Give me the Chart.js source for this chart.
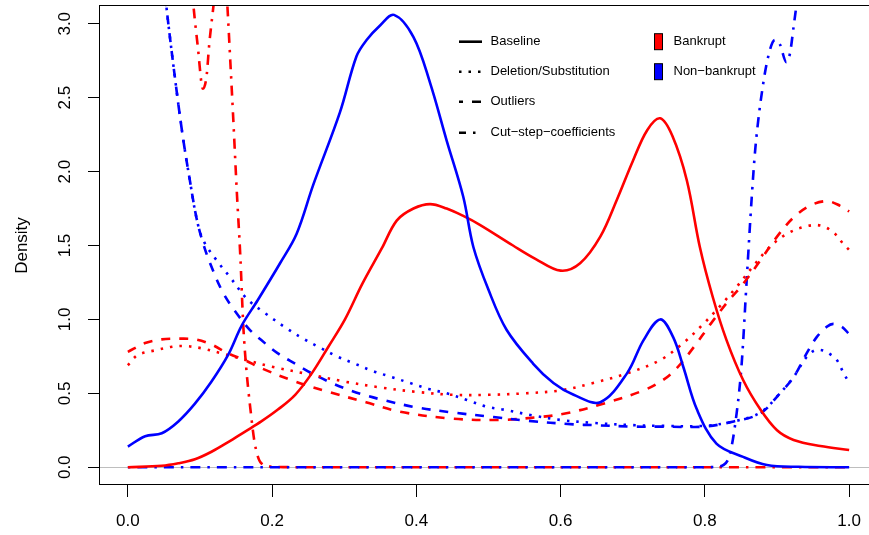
<!DOCTYPE html>
<html><head><meta charset="utf-8">
<script src="https://cdn.jsdelivr.net/npm/chart.js@4.4.0/dist/chart.umd.min.js"></script>
<style>
html,body{margin:0;padding:0;background:#fff;overflow:hidden;width:869px;height:535px}
#wrap{width:869px;height:535px;overflow:hidden;position:relative}
canvas{display:block}
</style></head>
<body><div id="wrap"><canvas id="c" width="890" height="535"></canvas></div>
<script>
// ---- tick labels / legend text ----
const xTicks = [0, 0.2, 0.4, 0.6, 0.8, 1.0];
const yTicks = [0, 0.5, 1.0, 1.5, 2.0, 2.5, 3.0];
const methodNames = ['Baseline', 'Deletion/Substitution', 'Outliers', 'Cut\u2212step\u2212coefficients'];
const groupNames = ['Bankrupt', 'Non\u2212bankrupt'];

// ---- Bankrupt (red) ----
const redBaseX = [0,0.047,0.07,0.093,0.116,0.139,0.162,0.185,0.208,0.232,0.255,0.278,0.301,0.325,0.352,0.373,0.396,0.419,0.442,0.465,0.488,0.534,0.565,0.6,0.627,0.655,0.678,0.7,0.72,0.738,0.755,0.775,0.793,0.811,0.83,0.853,0.877,0.9,0.923,0.96,1.0];
const redBaseY = [0.0,0.01,0.027,0.054,0.105,0.17,0.24,0.31,0.39,0.49,0.635,0.815,1.0,1.24,1.48,1.67,1.75,1.78,1.75,1.70,1.64,1.50,1.41,1.33,1.38,1.56,1.81,2.07,2.28,2.36,2.24,1.94,1.49,1.15,0.86,0.59,0.39,0.25,0.185,0.144,0.117];

const redDelX = [0,0.014,0.037,0.061,0.079,0.102,0.13,0.16,0.2,0.25,0.3,0.35,0.4,0.45,0.5,0.55,0.6,0.645,0.692,0.738,0.77,0.798,0.821,0.844,0.867,0.89,0.914,0.941,0.96,0.978,0.992,1.0];
const redDelY = [0.69,0.76,0.79,0.815,0.82,0.805,0.77,0.73,0.68,0.63,0.58,0.54,0.51,0.49,0.49,0.5,0.52,0.57,0.635,0.725,0.84,0.97,1.09,1.22,1.36,1.49,1.58,1.63,1.635,1.59,1.51,1.47];

const redOutX = [0,0.024,0.047,0.07,0.093,0.116,0.139,0.162,0.185,0.232,0.278,0.33,0.377,0.447,0.516,0.571,0.608,0.659,0.715,0.742,0.761,0.785,0.808,0.83,0.853,0.877,0.9,0.923,0.946,0.969,0.987,1.0];
const redOutY = [0.78,0.84,0.865,0.87,0.865,0.83,0.77,0.725,0.67,0.58,0.51,0.44,0.376,0.33,0.32,0.34,0.365,0.43,0.52,0.59,0.67,0.815,0.97,1.11,1.24,1.40,1.56,1.69,1.77,1.80,1.77,1.73];

const redCutX = [0,0.06,0.085,0.091,0.0975,0.102,0.104,0.109,0.113,0.118,0.124,0.13,0.135,0.138,0.142,0.146,0.151,0.156,0.16,0.164,0.17,0.176,0.185,0.2,0.25,1.0];
const redCutY = [6,4.2,3.5,3.12,2.82,2.6,2.56,2.64,2.87,3.09,3.35,3.45,3.35,3.12,2.75,2.37,1.87,1.42,0.96,0.68,0.39,0.16,0.027,0.004,0,0];

// ---- Non-bankrupt (blue) ----
const blueBaseX = [0,0.024,0.047,0.07,0.093,0.116,0.139,0.158,0.18,0.211,0.234,0.257,0.294,0.317,0.331,0.35,0.369,0.396,0.419,0.442,0.465,0.479,0.5,0.525,0.562,0.59,0.618,0.655,0.692,0.715,0.738,0.756,0.77,0.789,0.816,0.853,0.886,0.93,1.0];
const blueBaseY = [0.14,0.21,0.23,0.31,0.43,0.58,0.76,0.96,1.13,1.38,1.58,1.91,2.40,2.78,2.89,2.99,3.06,2.91,2.60,2.21,1.83,1.49,1.2,0.93,0.70,0.57,0.49,0.44,0.635,0.86,1.0,0.88,0.68,0.39,0.16,0.07,0.015,0.003,0.0];

const blueDelX = [0.05,0.054,0.0675,0.077,0.086,0.095,0.104,0.123,0.141,0.165,0.188,0.22,0.243,0.266,0.29,0.315,0.34,0.366,0.391,0.417,0.442,0.47,0.497,0.521,0.562,0.6,0.645,0.7,0.738,0.798,0.84,0.877,0.904,0.923,0.94,0.952,0.964,0.975,0.983,0.992,1.0];
const blueDelY = [3.3,3.09,2.55,2.21,1.94,1.69,1.54,1.40,1.29,1.14,1.05,0.94,0.87,0.81,0.75,0.70,0.65,0.61,0.57,0.53,0.50,0.455,0.41,0.39,0.35,0.32,0.30,0.285,0.28,0.28,0.31,0.37,0.50,0.61,0.74,0.79,0.79,0.76,0.725,0.64,0.57];

const blueOutX = [0.05,0.054,0.0675,0.077,0.086,0.095,0.104,0.114,0.132,0.151,0.169,0.185,0.208,0.232,0.255,0.278,0.301,0.327,0.354,0.4,0.451,0.507,0.553,0.618,0.645,0.7,0.738,0.798,0.84,0.877,0.904,0.923,0.941,0.955,0.969,0.978,0.99,1.0];
const blueOutY = [3.3,3.09,2.55,2.21,1.94,1.69,1.52,1.38,1.18,1.04,0.93,0.86,0.77,0.70,0.635,0.58,0.533,0.49,0.455,0.405,0.37,0.34,0.315,0.29,0.285,0.275,0.275,0.275,0.31,0.365,0.50,0.61,0.77,0.88,0.95,0.97,0.95,0.90];

const blueCutX = [0,0.4,0.8,0.815,0.826,0.835,0.844,0.851,0.858,0.865,0.87,0.881,0.89,0.897,0.904,0.913,0.918,0.923,0.927,0.935,0.95];
const blueCutY = [0,0,0,0.003,0.016,0.095,0.365,0.70,1.27,1.83,2.16,2.60,2.82,2.89,2.86,2.74,2.80,2.98,3.13,3.5,4.2];

// ---- styles ----
const FONT = "'Liberation Sans', Arial, Helvetica, sans-serif";
const RED = '#ff0000', BLUE = '#0000ff';
const DASHES = [[], [2.5, 7], [9, 9], [2.5, 7, 10, 7]];
const LEGEND_OFFSETS = [0, 0, 5, 12.5];
const LW = 2.6;

Chart.defaults.font.family = FONT;
Chart.defaults.color = '#000';

function pts(xs, ys) { return xs.map((x, i) => ({x: x, y: ys[i]})); }
function ds(label, xs, ys, color, dash, mono) {
  const d = {label, data: pts(xs, ys), borderColor: color, backgroundColor: color,
    borderWidth: LW, borderDash: dash, borderCapStyle: 'butt', borderJoinStyle: 'round', pointRadius: 0, fill: false};
  if (mono) d.cubicInterpolationMode = 'monotone'; else d.tension = 0.35;
  return d;
}

const datasets = [
  ds('Non-bankrupt Baseline', blueBaseX, blueBaseY, BLUE, DASHES[0]),
  ds('Bankrupt Baseline', redBaseX, redBaseY, RED, DASHES[0]),
  ds('Non-bankrupt Deletion/Substitution', blueDelX, blueDelY, BLUE, DASHES[1]),
  ds('Bankrupt Deletion/Substitution', redDelX, redDelY, RED, DASHES[1]),
  ds('Non-bankrupt Outliers', blueOutX, blueOutY, BLUE, DASHES[2]),
  ds('Bankrupt Outliers', redOutX, redOutY, RED, DASHES[2]),
  ds('Non-bankrupt Cut-step', blueCutX, blueCutY, BLUE, DASHES[3], true),
  ds('Bankrupt Cut-step', redCutX, redCutY, RED, DASHES[3], true)
];

const decor = {
  id: 'decor',
  beforeDatasetsDraw(chart) {
    const {ctx, chartArea: a, scales: {y}} = chart;
    const y0 = Math.round(y.getPixelForValue(0)) + 0.5;
    ctx.save();
    ctx.strokeStyle = '#bebebe'; ctx.lineWidth = 1;
    ctx.beginPath(); ctx.moveTo(a.left, y0); ctx.lineTo(a.right, y0); ctx.stroke();
    ctx.restore();
  },
  afterDraw(chart) {
    const {ctx, chartArea: a} = chart;
    ctx.save();
    ctx.strokeStyle = '#000'; ctx.lineWidth = 1; ctx.setLineDash([]);
    ctx.strokeRect(a.left + 0.5, a.top - 0.5, a.right - a.left, a.bottom - a.top);
    // legend: methods (line types)
    ctx.font = '13px ' + FONT;
    ctx.textBaseline = 'middle'; ctx.textAlign = 'left'; ctx.fillStyle = '#000';
    const rows = [41.7, 71.7, 101.7, 132.7];
    methodNames.forEach((name, i) => {
      ctx.strokeStyle = '#000'; ctx.lineWidth = LW; ctx.lineCap = 'butt';
      ctx.setLineDash(DASHES[i]); ctx.lineDashOffset = LEGEND_OFFSETS[i];
      ctx.beginPath(); ctx.moveTo(459, rows[i]); ctx.lineTo(482, rows[i]); ctx.stroke();
      ctx.setLineDash([]); ctx.lineDashOffset = 0;
      ctx.fillText(name, 490.5, rows[i]);
    });
    // legend: groups (colours)
    [RED, BLUE].forEach((c, i) => {
      const yy = rows[i];
      ctx.fillStyle = c; ctx.fillRect(654.5, yy - 8, 8, 16);
      ctx.strokeStyle = '#000'; ctx.lineWidth = 1; ctx.strokeRect(654.5, yy - 8, 8, 16);
      ctx.fillStyle = '#000'; ctx.fillText(groupNames[i], 673.5, yy);
    });
    ctx.restore();
  }
};

new Chart(document.getElementById('c'), {
  type: 'line',
  data: {datasets},
  plugins: [decor],
  options: {
    responsive: false, animation: false, devicePixelRatio: 1,
    layout: {padding: {left: 0, right: 12, top: 6, bottom: 0}},
    plugins: {legend: {display: false}, tooltip: {enabled: false}},
    scales: {
      x: {
        type: 'linear', min: -0.04, max: 1.04,
        afterBuildTicks(s) { s.ticks = xTicks.map(v => ({value: v})); },
        afterFit(s) { s.height = 50; s.paddingLeft = 0; s.paddingRight = 0; },
        border: {display: false},
        grid: {drawOnChartArea: false, drawTicks: true, tickLength: 12, color: '#000', lineWidth: 1},
        ticks: {autoSkip: false, maxRotation: 0, minRotation: 0, padding: 14,
          font: {size: 17}, color: '#000', callback: v => v.toFixed(1)}
      },
      y: {
        type: 'linear', min: -0.12, max: 3.12,
        afterBuildTicks(s) { s.ticks = yTicks.map(v => ({value: v})); },
        afterFit(s) { s.width = 99; s.paddingTop = 0; s.paddingBottom = 0; },
        border: {display: false},
        grid: {drawOnChartArea: false, drawTicks: true, tickLength: 11, color: '#000', lineWidth: 1},
        title: {display: true, text: 'Density', font: {size: 17}, color: '#000', padding: {top: 12, bottom: 0}},
        ticks: {autoSkip: false, minRotation: 90, maxRotation: 90, crossAlign: 'center', padding: 11,
          font: {size: 17}, color: '#000', callback: v => v.toFixed(1)}
      }
    }
  }
});
</script>
</body></html>
